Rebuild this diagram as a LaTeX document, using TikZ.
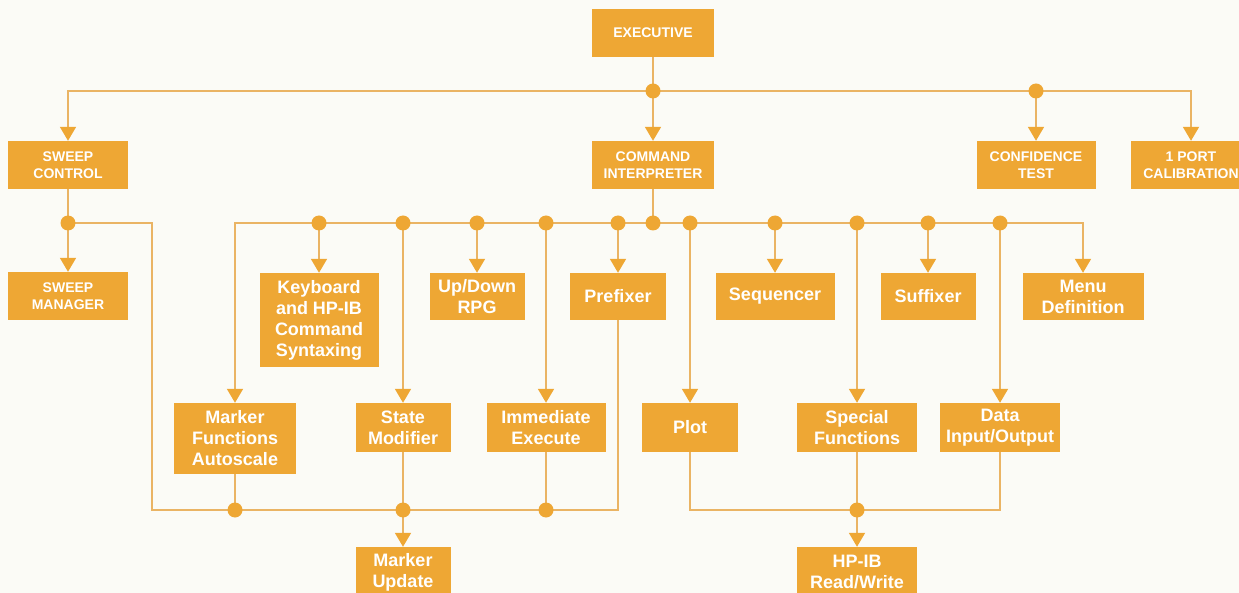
\documentclass[tikz,border=0pt]{standalone}
\usepackage{fontspec}
\setmainfont{Liberation Sans}
\usetikzlibrary{arrows.meta}
\definecolor{boxc}{RGB}{238,167,52}
\definecolor{linec}{RGB}{234,180,100}
\definecolor{bgc}{RGB}{251,251,246}
\pgfdeclarelayer{back}
\pgfdeclarelayer{lines}
\pgfsetlayers{back,lines,main}
\tikzset{
  box/.style={fill=boxc, text=white, align=center, inner sep=0pt, font=\bfseries\fontsize{18}{21}\selectfont},
  capbox/.style={box, font=\bfseries\fontsize{14}{17.5}\selectfont},
  dot/.style={circle, fill=boxc, inner sep=0pt, minimum size=15pt},
  conn/.style={draw=linec, line width=1.8pt},
  arr/.style={conn, -{Triangle[width=16pt,length=14pt,color=boxc]}},
}
\begin{document}
\begin{tikzpicture}[x=1pt,y=-1pt]
\begin{pgfonlayer}{back}
\fill[bgc] (0,0) rectangle (1239,593);
\end{pgfonlayer}
\useasboundingbox (0,0) rectangle (1239,593);
% top level
\node[capbox, minimum width=122pt, minimum height=48pt] (exec) at (653,33) {EXECUTIVE};
\node[capbox, minimum width=120pt, minimum height=48pt] (sc) at (68,165) {SWEEP\\CONTROL};
\node[capbox, minimum width=122pt, minimum height=48pt] (ci) at (653,165) {COMMAND\\INTERPRETER};
\node[capbox, minimum width=119pt, minimum height=48pt] (ct) at (1036,165) {CONFIDENCE\\TEST};
\node[capbox, minimum width=120pt, minimum height=48pt] (cal) at (1191,165) {1 PORT\\CALIBRATION};
\node[capbox, minimum width=120pt, minimum height=48pt] (sman) at (68,296) {SWEEP\\MANAGER};
% second row
\node[box, minimum width=119pt, minimum height=94pt] (kb) at (319,320) {Keyboard\\and HP-IB\\Command\\Syntaxing};
\node[box, minimum width=95pt, minimum height=47pt] (ud) at (477,296.5) {Up/Down\\RPG};
\node[box, minimum width=96pt, minimum height=47pt] (pre) at (618,296.5) {Prefixer};
\node[box, minimum width=119pt, minimum height=47pt] (seq) at (775,296.5) {Sequencer};
\node[box, minimum width=95pt, minimum height=47pt] (suf) at (928,296.5) {Suffixer};
\node[box, minimum width=121pt, minimum height=47pt] (menu) at (1083,296.5) {Menu\\Definition};
% third row
\node[box, minimum width=122pt, minimum height=71pt] (mfa) at (235,438.5) {Marker\\Functions\\Autoscale};
\node[box, minimum width=95pt, minimum height=49pt] (sm) at (403,427.5) {State\\Modifier};
\node[box, minimum width=119pt, minimum height=49pt] (ie) at (546,427.5) {Immediate\\Execute};
\node[box, minimum width=96pt, minimum height=49pt] (plot) at (690,427.5) {Plot};
\node[box, minimum width=120pt, minimum height=49pt] (sf) at (857,427.5) {Special\\Functions};
\node[box, minimum width=120pt, minimum height=49pt] (dio) at (1000,427.5) {Data\\Input/Output};
% bottom row
\node[box, minimum width=95pt, minimum height=50pt] (mu) at (403,572) {Marker\\Update};
\node[box, minimum width=120pt, minimum height=50pt] (hp) at (857,572) {HP-IB\\Read/Write};
% dots
\node[dot] (dT) at (653,91) {};
\node[dot] (dC) at (1036,91) {};
\node[dot] (dS) at (68,223) {};
\node[dot] (dCI) at (653,223) {};
\node[dot] (d1) at (319,223) {};
\node[dot] (d2) at (403,223) {};
\node[dot] (d3) at (477,223) {};
\node[dot] (d4) at (546,223) {};
\node[dot] (d5) at (618,223) {};
\node[dot] (d6) at (690,223) {};
\node[dot] (d7) at (775,223) {};
\node[dot] (d8) at (857,223) {};
\node[dot] (d9) at (928,223) {};
\node[dot] (d10) at (1000,223) {};
\node[dot] (m1) at (235,510) {};
\node[dot] (m2) at (403,510) {};
\node[dot] (m3) at (546,510) {};
\node[dot] (h1) at (857,510) {};
\coordinate (sl) at (152,510);
\begin{pgfonlayer}{lines}
% top level
\draw[conn] (exec.south) -- (dT.center);
\draw[arr] (dT.center) -- (ci.north);
\draw[arr] (dT.center) -| (sc.north);
\draw[conn] (dT.center) -- (dC.center);
\draw[arr] (dC.center) -- (ct.north);
\draw[arr] (dC.center) -| (cal.north);
% sweep
\draw[conn] (sc.south) -- (dS.center);
\draw[arr] (dS.center) -- (sman.north);
\draw[conn] (dS.center) -| (sl) -| (pre.south);
% command interpreter bus
\draw[conn] (ci.south) -- (dCI.center);
\draw[arr] (dCI.center) -| (mfa.north);
\draw[arr] (dCI.center) -| (menu.north);
\draw[arr] (d1.center) -- (kb.north);
\draw[arr] (d2.center) -- (sm.north);
\draw[arr] (d3.center) -- (ud.north);
\draw[arr] (d4.center) -- (ie.north);
\draw[arr] (d5.center) -- (pre.north);
\draw[arr] (d6.center) -- (plot.north);
\draw[arr] (d7.center) -- (seq.north);
\draw[arr] (d8.center) -- (sf.north);
\draw[arr] (d9.center) -- (suf.north);
\draw[arr] (d10.center) -- (dio.north);
% bottom left
\draw[conn] (mfa.south) -- (m1.center);
\draw[conn] (sm.south) -- (m2.center);
\draw[conn] (ie.south) -- (m3.center);
\draw[arr] (m2.center) -- (mu.north);
% bottom right
\draw[conn] (plot.south) |- (h1.center);
\draw[conn] (dio.south) |- (h1.center);
\draw[conn] (sf.south) -- (h1.center);
\draw[arr] (h1.center) -- (hp.north);
\end{pgfonlayer}
\end{tikzpicture}
\end{document}
